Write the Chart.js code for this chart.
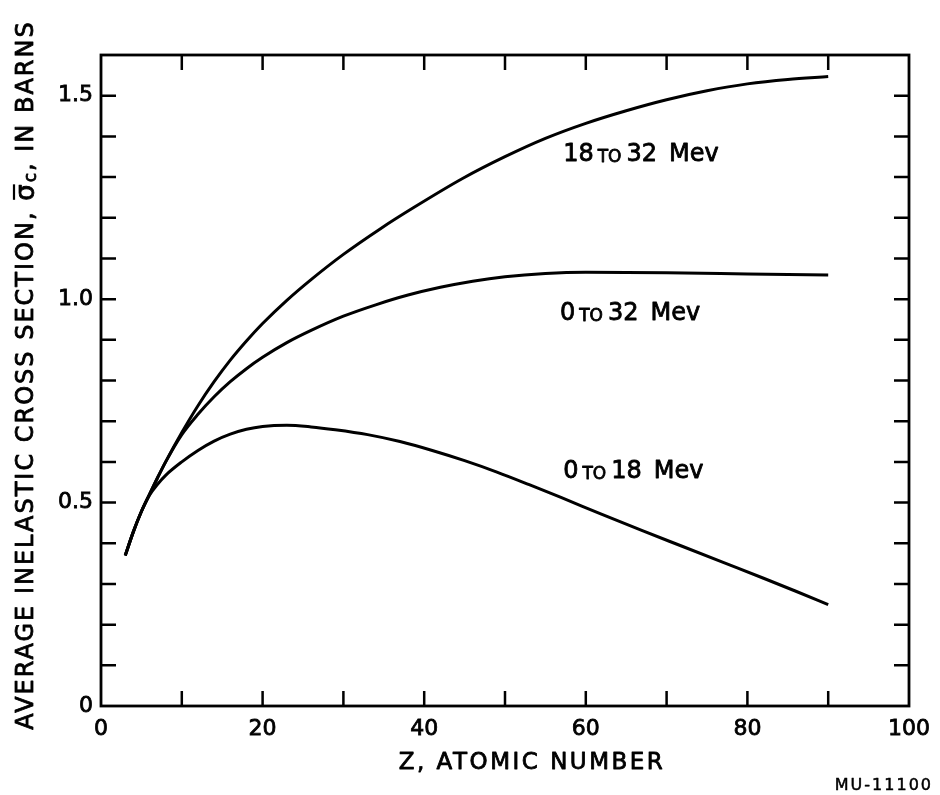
<!DOCTYPE html>
<html>
<head>
<meta charset="utf-8">
<script src="https://cdn.jsdelivr.net/npm/chart.js@4.4.0/dist/chart.umd.min.js"></script>
<style>
  html, body { margin: 0; padding: 0; background: #fff; }
  #wrap { width: 940px; height: 795px; }
</style>
</head>
<body>
<div id="wrap"><canvas id="c" width="940" height="795"></canvas></div>
<script>
// ---- data ----
const zLow     = [3, 4, 5, 6, 7, 8, 10, 12, 14, 16, 18, 20, 23, 26, 29, 33, 37, 41, 45, 49, 53, 57, 62, 67, 72, 77, 82, 86, 90];
const sigmaLow = [0.37, 0.428, 0.478, 0.518, 0.545, 0.567, 0.600, 0.628, 0.651, 0.668, 0.680, 0.687, 0.690, 0.686, 0.679, 0.667, 0.65, 0.628, 0.603, 0.575, 0.544, 0.512, 0.471, 0.431, 0.392, 0.353, 0.314, 0.282, 0.249];

const zAll     = [3, 4, 5, 6, 7, 8, 10, 12, 14, 16, 18, 20, 23, 26, 30, 34, 38, 42, 46, 50, 55, 60, 70, 80, 90];
const sigmaAll = [0.37, 0.428, 0.478, 0.52, 0.561, 0.60, 0.667, 0.717, 0.760, 0.797, 0.829, 0.857, 0.893, 0.923, 0.958, 0.986, 1.010, 1.029, 1.044, 1.055, 1.063, 1.066, 1.065, 1.062, 1.059];

const zHigh     = [3, 4, 5, 6, 7, 8, 10, 12, 14, 16, 18, 20, 23, 26, 30, 34.5, 38.7, 44.8, 50, 55, 60, 65, 70, 75, 80, 85, 90];
const sigmaHigh = [0.37, 0.428, 0.478, 0.52, 0.561, 0.60, 0.672, 0.738, 0.797, 0.850, 0.897, 0.940, 0.997, 1.048, 1.110, 1.172, 1.225, 1.297, 1.350, 1.395, 1.432, 1.463, 1.490, 1.512, 1.529, 1.540, 1.547];

const seriesNames = ["18 to 32 Mev", "0 to 32 Mev", "0 to 18 Mev"];
// label anchor positions (data units: Z, sigma)
const labelZ = [57.2, 56.8, 57.2];
const labelSigma = [1.355, 0.964, 0.575];

const xTitle = "Z, ATOMIC NUMBER";
const yTitleA = "AVERAGE INELASTIC CROSS SECTION, ";
const yTitleSym = "σ";
const yTitleSub = "c";
const yTitleB = ", IN BARNS";
const footNote = "MU-11100";

function pts(xs, ys) { return xs.map((x, i) => ({ x: x, y: ys[i] })); }

const FONT = "'DejaVu Sans', 'Liberation Sans', sans-serif";

function heavyText(ctx, s, x, y) {
  ctx.fillText(s, x, y);
  ctx.strokeText(s, x, y);
}

const framePlugin = {
  id: 'frame',
  afterDatasetsDraw(chart) {
    const { ctx, chartArea: a, scales } = chart;
    const xs = scales.x, ys = scales.y;
    ctx.save();
    ctx.strokeStyle = '#000';
    ctx.lineCap = 'butt';
    // inward ticks
    ctx.lineWidth = 2.5;
    const tl = 15;
    xs.ticks.forEach(t => {
      if (t.value <= 0 || t.value >= 100) return;
      const px = xs.getPixelForValue(t.value);
      ctx.beginPath();
      ctx.moveTo(px, a.bottom); ctx.lineTo(px, a.bottom - tl);
      ctx.moveTo(px, a.top); ctx.lineTo(px, a.top + tl);
      ctx.stroke();
    });
    ys.ticks.forEach(t => {
      if (t.value <= 0 || t.value >= 1.6 - 1e-9) return;
      const py = ys.getPixelForValue(t.value);
      ctx.beginPath();
      ctx.moveTo(a.left, py); ctx.lineTo(a.left + tl, py);
      ctx.moveTo(a.right, py); ctx.lineTo(a.right - tl, py);
      ctx.stroke();
    });
    // frame
    ctx.lineWidth = 2.8;
    ctx.strokeRect(a.left, a.top, a.right - a.left, a.bottom - a.top);

    // curve labels
    ctx.fillStyle = '#000';
    ctx.lineWidth = 0.8;
    ctx.lineJoin = 'round';
    ctx.textBaseline = 'middle';
    ctx.textAlign = 'left';
    seriesNames.forEach((name, i) => {
      let x = xs.getPixelForValue(labelZ[i]);
      const y = ys.getPixelForValue(labelSigma[i]);
      const parts = name.split(' to ');
      ctx.font = '24px ' + FONT;
      heavyText(ctx, parts[0], x, y); x += ctx.measureText(parts[0]).width + 4;
      ctx.font = '17px ' + FONT;
      heavyText(ctx, 'TO', x, y + 3); x += ctx.measureText('TO').width + 5;
      ctx.font = '24px ' + FONT;
      const rest = parts[1].split(' ');
      heavyText(ctx, rest[0], x, y); x += ctx.measureText(rest[0]).width + 12;
      heavyText(ctx, rest[1], x, y);
    });

    // x title
    ctx.font = '23px ' + FONT;
    ctx.textAlign = 'center';
    ctx.letterSpacing = '2.5px';
    heavyText(ctx, xTitle, 532, 763);

    // foot note
    ctx.font = '16px ' + FONT;
    ctx.textAlign = 'right';
    ctx.letterSpacing = '2px';
    ctx.lineWidth = 0.5;
    heavyText(ctx, footNote, 933, 786);

    // y title (rotated)
    ctx.lineWidth = 0.8;
    ctx.letterSpacing = '2px';
    ctx.translate(27, 375);
    ctx.rotate(-Math.PI / 2);
    ctx.textAlign = 'left';
    const fBig = '24px ' + FONT, fSym = '26px ' + FONT, fSub = '17px ' + FONT;
    ctx.font = fBig; const wA = ctx.measureText(yTitleA).width;
    ctx.font = fSym; const wS = ctx.measureText(yTitleSym).width;
    ctx.font = fSub; const wC = ctx.measureText(yTitleSub).width;
    ctx.font = fBig; const wB = ctx.measureText(yTitleB).width;
    let x0 = -(wA + wS + wC + wB) / 2;
    ctx.font = fBig; heavyText(ctx, yTitleA, x0, 0); x0 += wA;
    ctx.font = fSym; heavyText(ctx, yTitleSym, x0, 0);
    ctx.lineWidth = 2.2;
    ctx.beginPath(); ctx.moveTo(x0 + 1, -13); ctx.lineTo(x0 + wS - 2, -13); ctx.stroke();
    ctx.lineWidth = 0.8;
    x0 += wS;
    ctx.font = fSub; heavyText(ctx, yTitleSub, x0, 5); x0 += wC;
    ctx.font = fBig; heavyText(ctx, yTitleB, x0, 0);
    ctx.restore();
  }
};

const lineStyle = {
  borderColor: '#000',
  borderWidth: 3,
  pointRadius: 0,
  showLine: true,
  fill: false,
  cubicInterpolationMode: 'monotone'
};

const tickFont = { family: FONT, size: 22 };

new Chart(document.getElementById('c'), {
  type: 'scatter',
  data: {
    datasets: [
      Object.assign({ label: seriesNames[0], data: pts(zHigh, sigmaHigh) }, lineStyle),
      Object.assign({ label: seriesNames[1], data: pts(zAll, sigmaAll) }, lineStyle),
      Object.assign({ label: seriesNames[2], data: pts(zLow, sigmaLow) }, lineStyle)
    ]
  },
  options: {
    responsive: false,
    animation: false,
    devicePixelRatio: 1,
    layout: { padding: { left: 0, right: 31, top: 55, bottom: 0 } },
    plugins: { legend: { display: false }, tooltip: { enabled: false } },
    scales: {
      x: {
        type: 'linear', min: 0, max: 100,
        grid: { display: false, drawTicks: false },
        border: { display: false },
        ticks: {
          stepSize: 10, autoSkip: false, maxRotation: 0, padding: 10,
          color: '#000', font: tickFont, textStrokeColor: '#000', textStrokeWidth: 0.8,
          callback: v => (Math.round(v) % 20 === 0 ? String(v) : '')
        },
        afterFit: s => { s.height = 89; }
      },
      y: {
        type: 'linear', min: 0, max: 1.6,
        grid: { display: false, drawTicks: false },
        border: { display: false },
        ticks: {
          stepSize: 0.1, autoSkip: false, padding: 8,
          color: '#000', font: tickFont, textStrokeColor: '#000', textStrokeWidth: 0.8,
          callback: v => {
            const k = Math.round(v * 10);
            if (k % 5 !== 0) return '';
            return k === 0 ? '0' : (k / 10).toFixed(1);
          }
        },
        afterFit: s => { s.width = 101; }
      }
    }
  },
  plugins: [framePlugin]
});
</script>
</body>
</html>
